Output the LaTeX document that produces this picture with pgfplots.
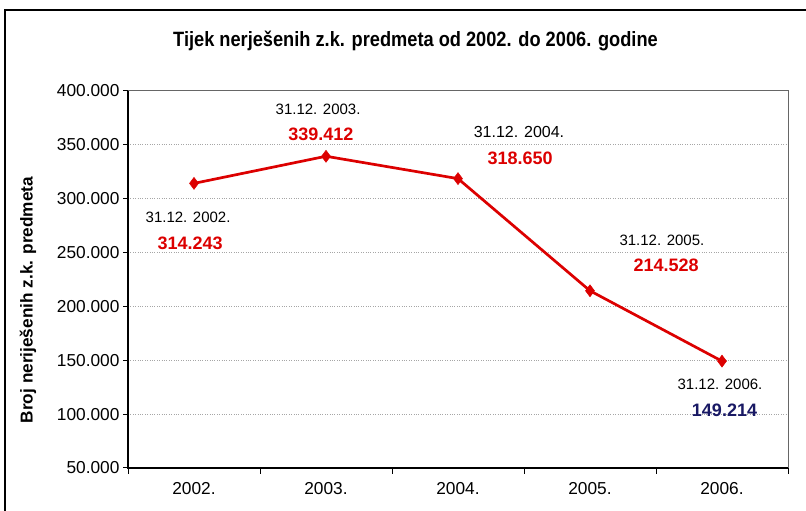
\documentclass[border=0pt]{standalone}
\usepackage{pgfplots}
\pgfplotsset{compat=1.18}
\usepackage{fontspec}
\setmainfont{Liberation Sans}
\newfontfamily\titlefont[FakeStretch=0.88]{Liberation Sans}
\definecolor{xred}{RGB}{220,0,0}
\definecolor{xnavy}{RGB}{25,25,100}
\begin{document}
\begin{tikzpicture}
\useasboundingbox (0pt,0pt) rectangle (806pt,511pt);
\draw[line width=2pt] (5pt,-5pt) -- (5pt,501pt) -- (811pt,501pt);
\node[font=\titlefont\fontsize{20.7}{23}\selectfont\bfseries, anchor=base] at (415.5pt,464pt) {Tijek nerješenih z.k. predmeta od 2002. do 2006. godine};
\node[font=\fontsize{17.2}{20}\selectfont\bfseries, rotate=90] at (28pt,211pt) {Broj neriješenih z.k. predmeta};
\begin{axis}[
  at={(128pt,43pt)}, anchor=south west,
  scale only axis, width=660pt, height=377pt,
  xmin=-0.5, xmax=4.5, ymin=50000, ymax=400000,
  scaled y ticks=false,
  ytick={50000,100000,150000,200000,250000,300000,350000,400000},
  yticklabels={50.000,100.000,150.000,200.000,250.000,300.000,350.000,400.000},
  xtick={0,1,2,3,4},
  xticklabels={2002.,2003.,2004.,2005.,2006.},
  minor xtick={-0.5,0.5,1.5,2.5,3.5,4.5},
  xtick pos=bottom, ytick pos=left,
  major x tick style={draw=none},
  minor x tick style={black, line width=1pt},
  minor tick length=6pt,
  major tick length=5pt,
  tick align=outside,
  ytick style={black, line width=1pt},
  ymajorgrids,
  major grid style={gray!70, dotted, line width=1pt},
  axis line style={gray!80!black, line width=1pt},
  tick label style={font=\fontsize{17.3}{20}\selectfont},
  xticklabel style={yshift=-6pt},
  clip=false,
]
\addplot[xred, line width=2.7pt, mark=diamond*, mark size=6pt, mark options={fill=xred, line width=0.5pt}]
  coordinates {(0,314243) (1,339412) (2,318650) (3,214528) (4,149214)};
\draw[black, line width=1.2pt] (axis cs:-0.5,400000) -- (axis cs:-0.5,50000) -- (axis cs:4.5,50000);
\node[font=\fontsize{15}{18}\selectfont] at (axis cs:-0.045,282560) {31.12. 2002.};
\node[font=\fontsize{18}{20}\selectfont\bfseries, text=xred] at (axis cs:-0.03,258420) {314.243};
\node[font=\fontsize{15}{18}\selectfont] at (axis cs:0.94,383290) {31.12. 2003.};
\node[font=\fontsize{18}{20}\selectfont\bfseries, text=xred] at (axis cs:0.962,360080) {339.412};
\node[font=\fontsize{16}{18}\selectfont] at (axis cs:2.462,361936) {31.12. 2004.};
\node[font=\fontsize{18}{20}\selectfont\bfseries, text=xred] at (axis cs:2.47,337800) {318.650};
\node[font=\fontsize{15}{18}\selectfont] at (axis cs:3.545,261670) {31.12. 2005.};
\node[font=\fontsize{18}{20}\selectfont\bfseries, text=xred] at (axis cs:3.576,238460) {214.528};
\node[font=\fontsize{15}{18}\selectfont] at (axis cs:3.985,127980) {31.12. 2006.};
\node[font=\fontsize{18}{20}\selectfont\bfseries, text=xnavy] at (axis cs:4.019,103840) {149.214};
\end{axis}
\end{tikzpicture}
\end{document}
